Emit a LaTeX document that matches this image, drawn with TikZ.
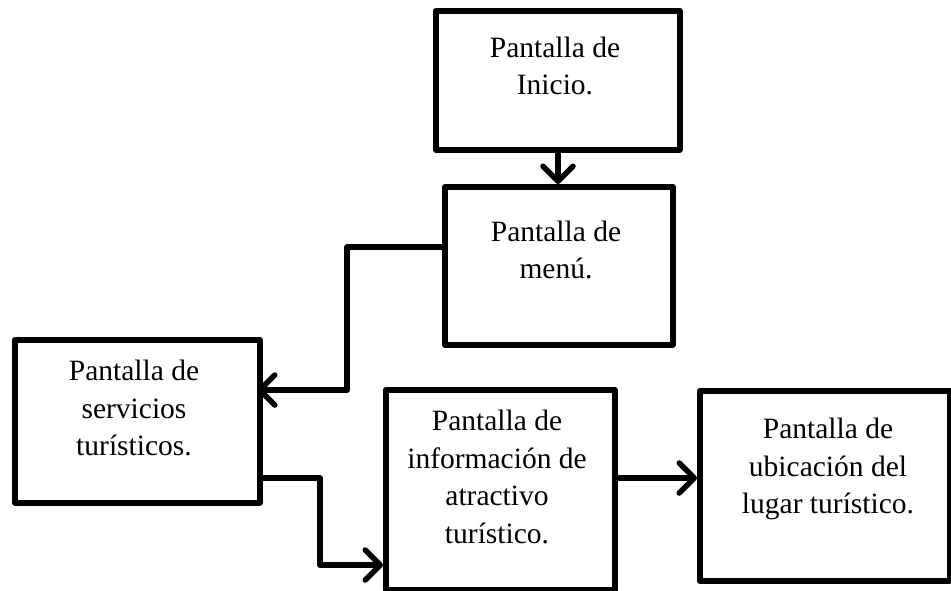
\documentclass[tikz,border=0pt]{standalone}
\usepackage{fontspec}
\setmainfont{Liberation Serif}
\usetikzlibrary{arrows.meta}
\begin{document}
\begin{tikzpicture}[x=1pt,y=-1pt,
  box/.style={draw=black,line width=5.5pt,line join=round,fill=white,inner sep=0pt,anchor=north west},
  lbl/.style={align=center,inner sep=0pt,font=\fontsize{29.5}{37.5}\selectfont},
  conn/.style={draw=black,line width=5.5pt,line join=round,-{Straight Barb[length=15pt,width=30pt,line join=round,line cap=round]}}]
\useasboundingbox (0,0) rectangle (951,590);
% boxes
\node[box,minimum width=244pt,minimum height=139pt] (b1) at (433,8) {};
\node[box,minimum width=228pt,minimum height=158pt] (b2) at (442,184) {};
\node[box,minimum width=245pt,minimum height=163pt] (b3) at (12,337) {};
\node[box,minimum width=229pt,minimum height=200pt] (b4) at (383,387) {};
\node[box,minimum width=250pt,minimum height=190pt] (b5) at (697,388) {};
% texts
\node[lbl] (t1) at (555,66) {Pantalla de\\Inicio.};
\node[lbl] (t2) at (556,250) {Pantalla de\\menú.};
\node[lbl] (t3) at (134,408) {Pantalla de\\servicios\\turísticos.};
\node[lbl] (t4) at (497,477) {Pantalla de\\información de\\atractivo\\turístico.};
\node[lbl] (t5) at (828,469) {Pantalla de\\ubicación del\\lugar turístico.};
% connector helper points
\coordinate (a1) at (558,147);
\coordinate (a2) at (558,184);
\coordinate (p1) at (442,247);
\coordinate (p2) at (347,247);
\coordinate (p3) at (347,390);
\coordinate (p4) at (257,390);
\coordinate (q1) at (257,478);
\coordinate (q2) at (320,478);
\coordinate (q3) at (320,565);
\coordinate (q4) at (383,565);
\coordinate (r1) at (612,478);
\coordinate (r2) at (697,478);
% connectors
\draw[conn] (a1) -- (a2);
\draw[conn] (p1) -- (p2) -- (p3) -- (p4);
\draw[conn] (q1) -- (q2) -- (q3) -- (q4);
\draw[conn] (r1) -- (r2);
\end{tikzpicture}
\end{document}
